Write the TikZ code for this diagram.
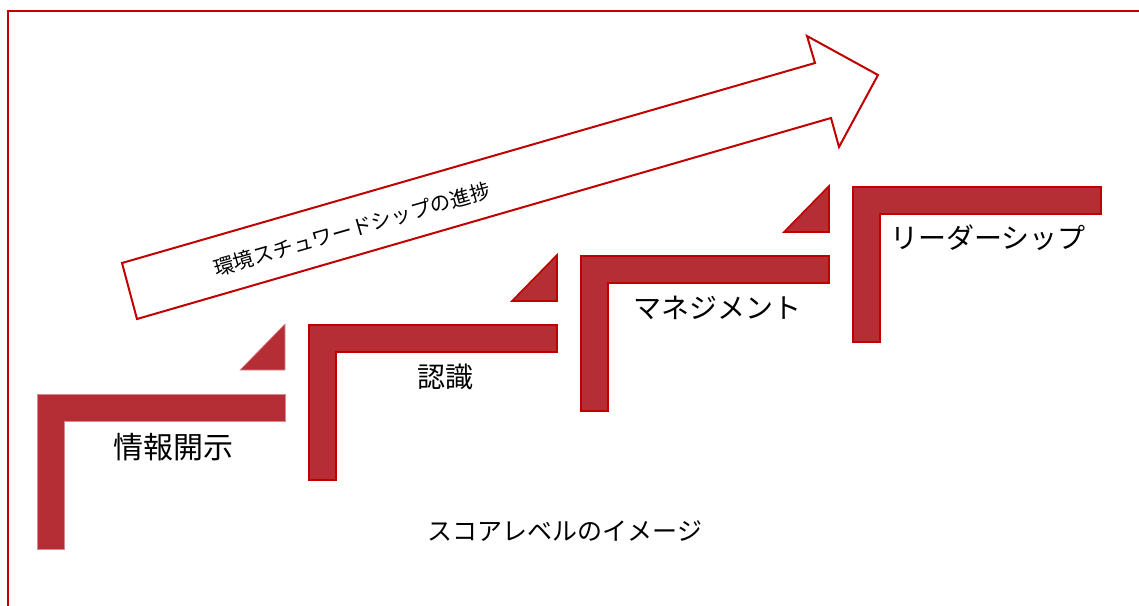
\documentclass[tikz,border=0pt]{standalone}
\usepackage{fontspec}
\setmainfont{Noto Sans CJK JP}
\begin{document}
\begin{tikzpicture}[x=1pt,y=-1pt]
\definecolor{stepred}{RGB}{181,45,53}
\definecolor{edgered}{RGB}{192,0,0}
\tikzset{
  stepedge/.style={fill=stepred, draw=edgered, line width=1.6pt, line join=miter},
  steplight/.style={fill=stepred, draw=stepred!55, line width=0.6pt},
  lbl/.style={inner sep=0pt, anchor=center, text=black},
  bigtext/.style={lbl, font=\fontsize{28}{30}\selectfont},
  arrowshape/.style={fill=white, draw=edgered, line width=2pt, line join=miter},
}
\useasboundingbox (0,0) rectangle (1139,605);
\fill[white] (0,0) rectangle (1139,605);
% frame
\draw[edgered, line width=2.5pt] (8,607) -- (8,11) -- (1141,11);
% progress arrow
\draw[arrowshape] (122,263) -- (815,63) -- (807,36) -- (878,75) -- (839,147) -- (831,118) -- (137,319) -- cycle;
\node[lbl, rotate=16, font=\fontsize{20.5}{22}\selectfont] (prog) at (352,229) {環境スチュワードシップの進捗};
% step 1 (no dark outline)
\path[steplight] (37,394) -- (285,394) -- (285,421) -- (64,421) -- (64,549) -- (37,549) -- cycle;
\path[steplight] (240,370) -- (285,324) -- (285,370) -- cycle;
% steps 2-4
\foreach \i in {1,2,3}{
  \begin{scope}[shift={(272*\i,-69*\i)}]
    \path[stepedge] (37,394) -- (285,394) -- (285,421) -- (64,421) -- (64,549) -- (37,549) -- cycle;
    \ifnum\i<3
      \path[stepedge] (240,370) -- (285,324) -- (285,370) -- cycle;
    \fi
  \end{scope}
}
% labels
\node[bigtext, font=\fontsize{30}{32}\selectfont] (s1) at (173,447) {情報開示};
\node[bigtext] (s2) at (445,377) {認識};
\node[bigtext] (s3) at (717,308) {マネジメント};
\node[bigtext] (s4) at (988,238) {リーダーシップ};
\node[lbl, font=\fontsize{25}{27}\selectfont] (cap) at (565,531) {スコアレベルのイメージ};
\end{tikzpicture}
\end{document}
